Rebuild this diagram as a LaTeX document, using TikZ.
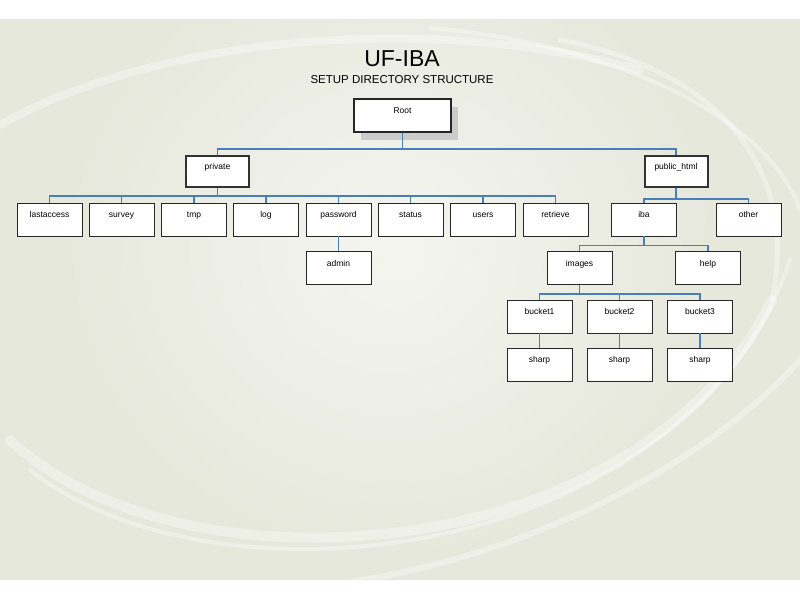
\documentclass[tikz,border=0pt]{standalone}
\usepackage{fontspec}
\setmainfont{Liberation Sans}
\usepackage{tikz}
\usetikzlibrary{calc}
\usetikzlibrary{shadows}
\definecolor{bgbase}{HTML}{E6E8DC}
\definecolor{bglight}{HTML}{F4F5EF}
\definecolor{linkblue}{HTML}{4A7EBB}
\tikzset{
  dir/.style={draw=black!85,line width=0.8pt,fill=white,minimum width=65pt,
    text height=12.5pt,text depth=16.5pt,inner ysep=2pt,inner xsep=0pt,
    font=\fontsize{8.5}{10}\selectfont},
  topdir/.style={dir,draw=black!80,line width=2pt,minimum width=63pt,
    text height=11pt,text depth=16pt},
  link/.style={draw=linkblue,line width=1.4pt},
  swoosh/.style={white,opacity=0.35,line cap=round}
}

\begin{document}
\begin{tikzpicture}[x=1pt,y=-1pt]
\useasboundingbox (0,0) rectangle (800,600);
\fill[white] (0,0) rectangle (800,600);

% background
\begin{scope}
\clip (0,19) rectangle (800,580);
\fill[bgbase] (0,19) rectangle (800,580);
\shade[inner color=bglight,outer color=bgbase] (60,-60) rectangle (720,560);
\draw[swoosh,line width=10pt] (10,440) .. controls (180,600) and (640,570) .. (772,300);
\draw[swoosh,line width=5pt] (772,300) .. controls (800,170) and (720,70) .. (560,40);
\draw[swoosh,line width=4pt] (30,470) .. controls (220,620) and (690,560) .. (790,260);
\draw[swoosh,line width=8pt] (0,125) .. controls (150,40) and (420,10) .. (640,70);
\draw[swoosh,line width=4pt] (430,28) .. controls (620,45) and (770,120) .. (800,210);
\draw[swoosh,line width=6pt] (330,585) .. controls (520,560) and (700,470) .. (800,360);
\end{scope}

% title
\node (title) at (402,59) {\fontsize{23}{26}\selectfont UF-IBA};
\node (subtitle) at (402,80) {\fontsize{11.5}{13}\selectfont SETUP DIRECTORY STRUCTURE};

% top levels
\node[dir,line width=2pt,minimum width=97pt,
  drop shadow={shadow xshift=7pt,shadow yshift=-8pt,fill=black!20,opacity=1}]
  (root) at (402.5,115.5) {Root};
\node[topdir] (private) at (217.5,171.5) {private};
\node[topdir] (public) at (676,171.5) {public\_html};

\draw[link] (root.south) -- ++(0,16) -| (private.north);
\draw[link] (root.south) -- ++(0,16) -| (public.north);

% private
\node[dir] (lastaccess) at (49.5,219.5) {lastaccess};
\node[dir] (survey) at (121.5,219.5) {survey};
\node[dir] (tmp) at (194,219.5) {tmp};
\node[dir] (log) at (266,219.5) {log};
\node[dir] (password) at (338.5,219.5) {password};
\node[dir] (status) at (410.5,219.5) {status};
\node[dir] (users) at (483,219.5) {users};
\node[dir] (retrieve) at (555.5,219.5) {retrieve};
\node[dir] (admin) at (338.5,268) {admin};

\draw[link] (private.south) -- ++(0,8) -| (lastaccess.north);
\draw[link] (private.south) -- ++(0,8) -| (survey.north);
\draw[link] (private.south) -- ++(0,8) -| (tmp.north);
\draw[link] (private.south) -- ++(0,8) -| (log.north);
\draw[link] (private.south) -- ++(0,8) -| (password.north);
\draw[link] (private.south) -- ++(0,8) -| (status.north);
\draw[link] (private.south) -- ++(0,8) -| (users.north);
\draw[link] (private.south) -- ++(0,8) -| (retrieve.north);
\draw[link] (password.south) -- (admin.north);

% public_html
\node[dir] (iba) at (644,219.5) {iba};
\node[dir] (other) at (748.5,219.5) {other};
\node[dir] (images) at (579.5,268) {images};
\node[dir] (help) at (708,268) {help};
\node[dir] (bucketA) at (539.5,316.5) {bucket1};
\node[dir] (bucketB) at (619.5,316.5) {bucket2};
\node[dir] (bucketC) at (700,316.5) {bucket3};
\node[dir] (sharpA) at (539.5,364.5) {sharp};
\node[dir] (sharpB) at (619.5,364.5) {sharp};
\node[dir] (sharpC) at (700,364.5) {sharp};

\draw[link] (public.south) -- ++(0,11) -| (iba.north);
\draw[link] (public.south) -- ++(0,11) -| (other.north);
\draw[link] (iba.south) -- ++(0,9) -| (images.north);
\draw[link] (iba.south) -- ++(0,9) -| (help.north);
\draw[link] (images.south) -- ++(0,9) -| (bucketA.north);
\draw[link] (images.south) -- ++(0,9) -| (bucketB.north);
\draw[link] (images.south) -- ++(0,9) -| (bucketC.north);
\draw[link] (bucketA.south) -- (sharpA.north);
\draw[link] (bucketB.south) -- (sharpB.north);
\draw[link] (bucketC.south) -- (sharpC.north);

\end{tikzpicture}
\end{document}
